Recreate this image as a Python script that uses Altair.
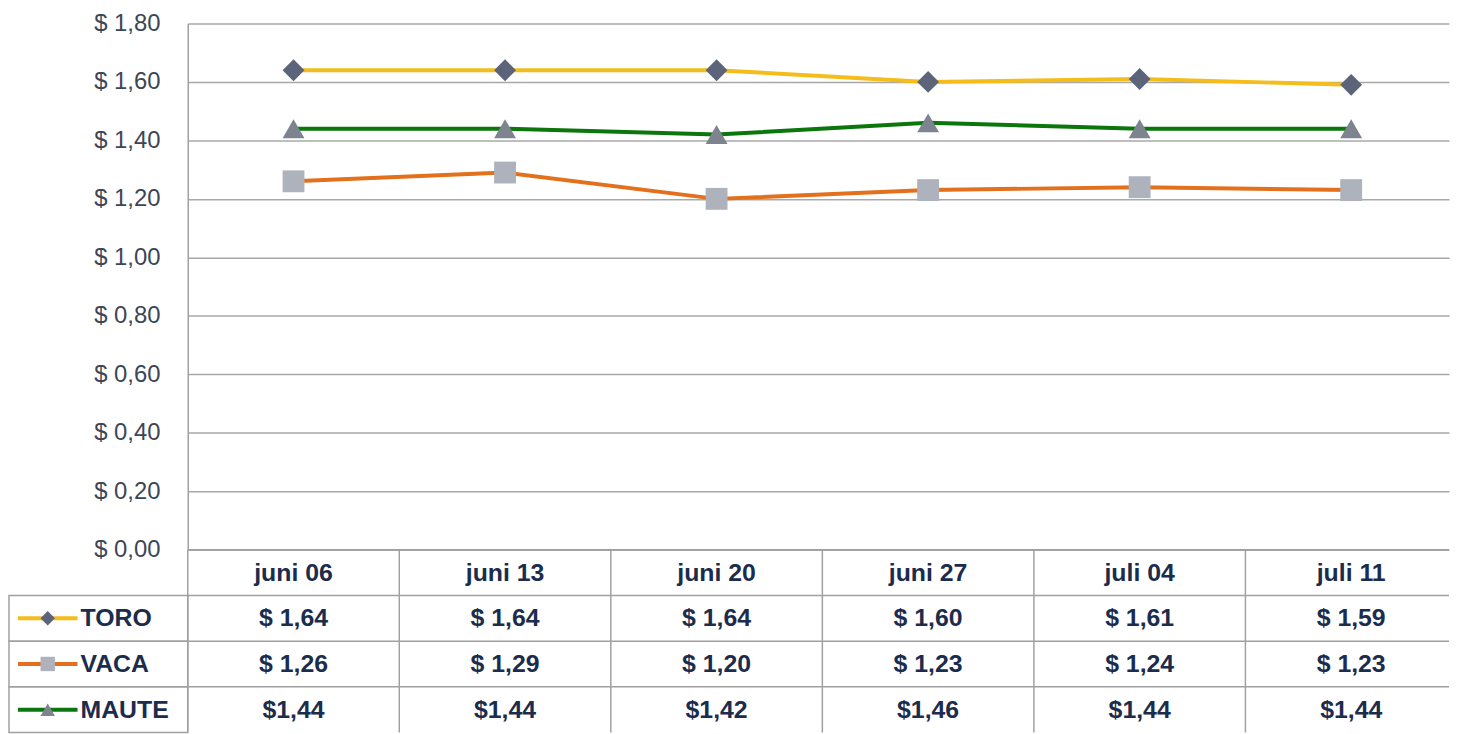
import altair as alt
import pandas as pd

# ---- data ----
dates = ["juni 06", "juni 13", "juni 20", "juni 27", "juli 04", "juli 11"]
series = ["TORO", "VACA", "MAUTE"]
toro = [1.64, 1.64, 1.64, 1.60, 1.61, 1.59]
vaca = [1.26, 1.29, 1.20, 1.23, 1.24, 1.23]
maute = [1.44, 1.44, 1.42, 1.46, 1.44, 1.44]
toro_txt = ["$ 1,64", "$ 1,64", "$ 1,64", "$ 1,60", "$ 1,61", "$ 1,59"]
vaca_txt = ["$ 1,26", "$ 1,29", "$ 1,20", "$ 1,23", "$ 1,24", "$ 1,23"]
maute_txt = ["$1,44", "$1,44", "$1,42", "$1,46", "$1,44", "$1,44"]
y_ticks = [0.0, 0.2, 0.4, 0.6, 0.8, 1.0, 1.2, 1.4, 1.6, 1.8]
header_key = "hdr"
table_rows = [header_key] + series

# ---- styles ----
line_colors = ["#f4bd1c", "#e3701d", "#0b760b"]
marker_colors = ["#5b6479", "#adb2bc", "#7e8390"]
marker_shapes = ["diamond", "square", "triangle-up"]
FONT = "Liberation Sans"
TXT = "#1c2c4c"
GRID = "#a8a8a8"
BORDER = "#a0a0a0"

W = 1270          # visible plot width (up to the page edge)
STEP = 213        # column width; the last column runs off the page
H = 530
ROW = 46
TABLE_H = ROW * len(table_rows)
LEG_W = 180

# point-scale settings giving columns of STEP px starting at the plot's left edge
n_cols = len(dates)
PT_PAD = (W / STEP - (n_cols - 1)) / 2
PT_ALIGN = (STEP / 2) / (W - (n_cols - 1) * STEP)
col_scale = alt.Scale(type="point", domain=dates, padding=PT_PAD, align=PT_ALIGN)

# ---- tables ----
vals = {"TORO": toro, "VACA": vaca, "MAUTE": maute}
txts = {"TORO": toro_txt, "VACA": vaca_txt, "MAUTE": maute_txt}
df = pd.DataFrame(
    [{"series": s, "date": d, "value": v} for s in series for d, v in zip(dates, vals[s])]
)
cell_rows = [{"row": header_key, "date": d, "text": d} for d in dates]
for s in series:
    for d, t in zip(dates, txts[s]):
        cell_rows.append({"row": s, "date": d, "text": t})
cell_df = pd.DataFrame(cell_rows)
col_df = pd.DataFrame({"date": dates})
row_df = pd.DataFrame({"row": table_rows})
leg_df = pd.DataFrame({"row": series, "col": ["legend"] * len(series), "name": series})

# ---- top: line chart ----
x_enc = alt.X("date:N", axis=None, scale=col_scale)
y_enc = alt.Y(
    "value:Q",
    scale=alt.Scale(domain=[0, 1.8], nice=False),
    axis=alt.Axis(
        values=y_ticks,
        title=None,
        labelExpr="'$ ' + replace(format(datum.value, '.2f'), '.', ',')",
        labelFont=FONT,
        labelFontSize=24,
        labelColor="#3b4656",
        labelPadding=28,
        ticks=False,
        domain=True,
        domainColor=BORDER,
        domainWidth=1.5,
        grid=True,
        gridColor=GRID,
        gridWidth=1.5,
    ),
)
color_scale = alt.Scale(domain=series, range=line_colors)
fill_scale = alt.Scale(domain=series, range=marker_colors)
shape_scale = alt.Scale(domain=series, range=marker_shapes)

lines = alt.Chart(df).mark_line(strokeWidth=4).encode(
    x=x_enc, y=y_enc, color=alt.Color("series:N", scale=color_scale, legend=None)
)
points = alt.Chart(df).mark_point(filled=True, opacity=1, size=484).encode(
    x=x_enc,
    y=y_enc,
    shape=alt.Shape("series:N", scale=shape_scale, legend=None),
    fill=alt.Fill("series:N", scale=fill_scale, legend=None),
)
top = alt.layer(lines, points).properties(width=W, height=H)

# ---- empty top-left cell (keeps the column grid) ----
blank = (
    alt.Chart(pd.DataFrame({"v": pd.Series([], dtype=float)}))
    .mark_point(opacity=0)
    .encode(x=alt.X("v:Q", axis=None), y=alt.Y("v:Q", axis=None))
    .properties(width=LEG_W, height=H)
)

# ---- bottom right: data table ----
row_scale = alt.Scale(domain=table_rows, paddingInner=0, paddingOuter=0)
col_lines = alt.Chart(col_df).mark_rule(color=BORDER, strokeWidth=1.5, xOffset=-STEP / 2).encode(
    x=alt.X("date:N", axis=None, scale=col_scale)
)
row_lines = alt.Chart(row_df).mark_rule(color=BORDER, strokeWidth=1.5).encode(
    y=alt.Y("row:N", axis=None, scale=row_scale, bandPosition=0)
)
texts = alt.Chart(cell_df).mark_text(
    font=FONT, fontSize=25, fontWeight="bold", color=TXT, baseline="middle", align="center"
).encode(
    x=alt.X("date:N", axis=None, scale=col_scale),
    y=alt.Y("row:N", axis=None, scale=row_scale, bandPosition=0.5),
    text="text:N",
)
table = alt.layer(col_lines, row_lines, texts).properties(width=W, height=TABLE_H)

# ---- bottom left: legend cells ----
band0 = alt.Scale(paddingInner=0, paddingOuter=0)
lx = alt.X("col:N", axis=None, scale=band0)
ly = alt.Y("row:N", axis=None, scale=row_scale)
lxc = alt.X("col:N", axis=None, scale=band0, bandPosition=0.5)
lyc = alt.Y("row:N", axis=None, scale=row_scale, bandPosition=0.5)
leg_cells = alt.Chart(leg_df).mark_rect(
    fill="white", fillOpacity=0, stroke=BORDER, strokeWidth=1.5
).encode(x=lx, y=ly)
leg_lines = alt.Chart(leg_df).mark_point(
    shape="M-1,0L1,0", filled=False, strokeWidth=4, size=3600, opacity=1, xOffset=-51
).encode(x=lxc, y=lyc, color=alt.Color("row:N", scale=color_scale, legend=None))
leg_marks = alt.Chart(leg_df).mark_point(filled=True, opacity=1, size=210, xOffset=-51).encode(
    x=lxc,
    y=lyc,
    shape=alt.Shape("row:N", scale=shape_scale, legend=None),
    fill=alt.Fill("row:N", scale=fill_scale, legend=None),
)
leg_text = alt.Chart(leg_df).mark_text(
    font=FONT, fontSize=25, fontWeight="bold", color=TXT, align="left", baseline="middle", dx=-18
).encode(x=lxc, y=lyc, text="name:N")
legend = alt.layer(leg_cells, leg_lines, leg_marks, leg_text).properties(width=LEG_W, height=TABLE_H)

chart = (
    alt.concat(blank, top, legend, table, columns=2, spacing=0, align="each", bounds="flush")
    .properties(padding={"left": 0, "top": 1, "right": 0, "bottom": 0})
    .configure_view(stroke=None)
)

chart.save("out.html", embed_options={"renderer": "svg", "actions": False})
